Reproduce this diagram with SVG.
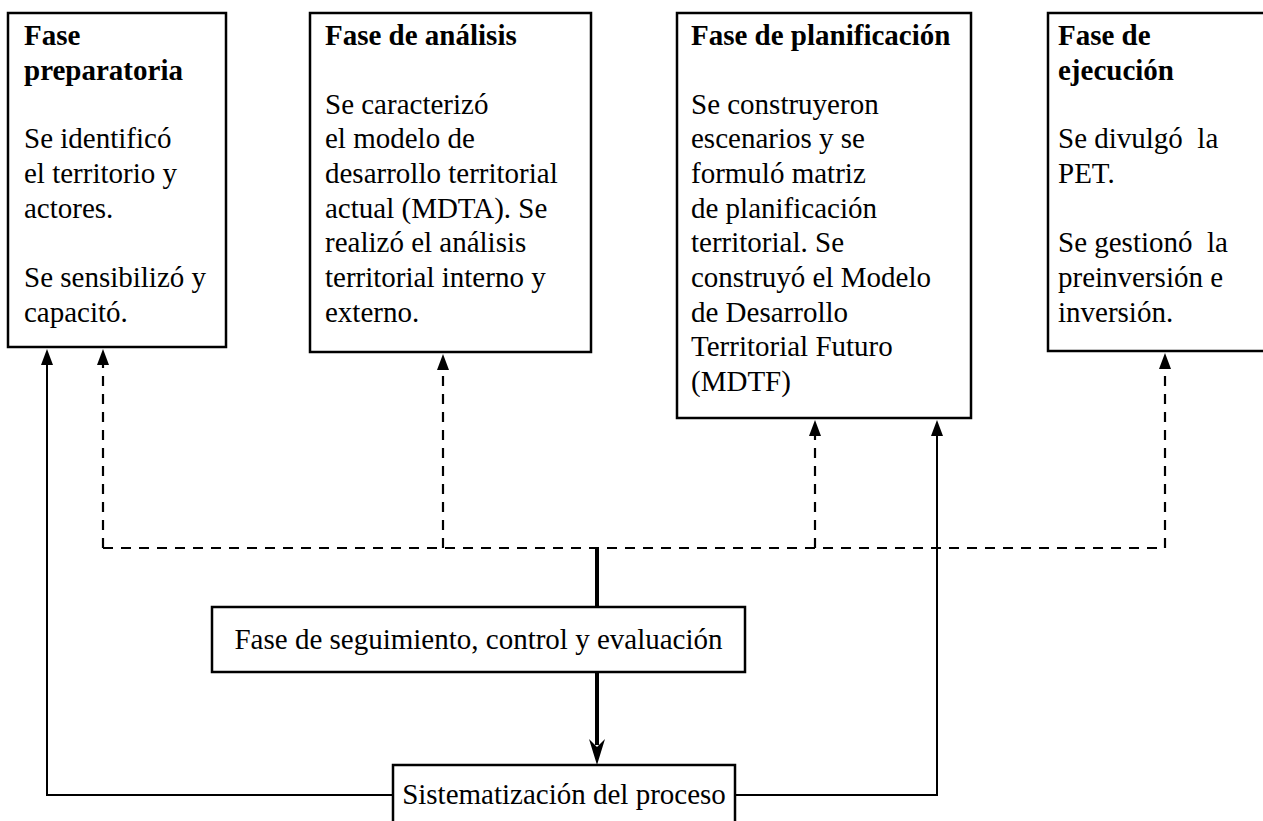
<svg xmlns="http://www.w3.org/2000/svg" width="1263" height="821" viewBox="0 0 1263 821">
<defs>
<style>
.box{fill:#fff;stroke:#000;stroke-width:2.5}
.t{font-family:"Liberation Serif","Times New Roman",serif;font-size:29px;fill:#000}
.b{font-weight:bold}
.c{text-anchor:middle}
.ln{fill:none;stroke:#000;stroke-width:2}
.dash{fill:none;stroke:#000;stroke-width:2.2;stroke-dasharray:10 8}
.thick{fill:none;stroke:#000;stroke-width:4}
</style>
</defs>
<rect width="1263" height="821" fill="#fff"/>
<g id="connectors">
<path class="ln" d="M393,795 H47 V362"/>
<path class="ln" d="M735,795 H937 V433"/>
<path class="dash" d="M103,548 H1165"/>
<path class="dash" d="M103,548 V362"/>
<path class="dash" d="M443,548 V367"/>
<path class="dash" d="M815,548 V433"/>
<path class="dash" d="M1165,548 V366"/>
<path d="M97,365 L103,349 L109,365 Z"/>
<path d="M437,370 L443,354 L449,370 Z"/>
<path d="M809,436 L815,420 L821,436 Z"/>
<path d="M1159,369 L1165,353 L1171,369 Z"/>
<path d="M41,365 L47,349 L53,365 Z"/>
<path d="M931,436 L937,420 L943,436 Z"/>
<path class="thick" d="M597,548 V607"/>
<path class="thick" d="M597,673 V745"/>
<path d="M589,739 L597,765 L605,739 L597,747 Z"/>
</g>
<g id="fase-preparatoria">
<rect class="box" x="8" y="13" width="218" height="334"/>
<text class="t b" x="24" y="45">Fase</text>
<text class="t b" x="24" y="80">preparatoria</text>
<text class="t" x="24" y="148">Se identificó</text>
<text class="t" x="24" y="183">el territorio y</text>
<text class="t" x="24" y="218">actores.</text>
<text class="t" x="24" y="287">Se sensibilizó y</text>
<text class="t" x="24" y="322">capacitó.</text>
</g>
<g id="fase-analisis">
<rect class="box" x="310" y="13" width="281" height="339"/>
<text class="t b" x="325" y="45">Fase de análisis</text>
<text class="t" x="325" y="114">Se caracterizó</text>
<text class="t" x="325" y="148">el modelo de</text>
<text class="t" x="325" y="183">desarrollo territorial</text>
<text class="t" x="325" y="218">actual (MDTA). Se</text>
<text class="t" x="325" y="252">realizó el análisis</text>
<text class="t" x="325" y="287">territorial interno y</text>
<text class="t" x="325" y="322">externo.</text>
</g>
<g id="fase-planificacion">
<rect class="box" x="677" y="13" width="294" height="405"/>
<text class="t b" x="691" y="45">Fase de planificación</text>
<text class="t" x="691" y="114">Se construyeron</text>
<text class="t" x="691" y="148">escenarios y se</text>
<text class="t" x="691" y="183">formuló matriz</text>
<text class="t" x="691" y="218">de planificación</text>
<text class="t" x="691" y="252">territorial. Se</text>
<text class="t" x="691" y="287">construyó el Modelo</text>
<text class="t" x="691" y="322">de Desarrollo</text>
<text class="t" x="691" y="356">Territorial Futuro</text>
<text class="t" x="691" y="391">(MDTF)</text>
</g>
<g id="fase-ejecucion">
<rect class="box" x="1048" y="13" width="220" height="338"/>
<text class="t b" x="1058" y="45">Fase de</text>
<text class="t b" x="1058" y="80">ejecución</text>
<text class="t" x="1058" y="148" xml:space="preserve">Se divulgó  la</text>
<text class="t" x="1058" y="183">PET.</text>
<text class="t" x="1058" y="252" xml:space="preserve">Se gestionó  la</text>
<text class="t" x="1058" y="287">preinversión e</text>
<text class="t" x="1058" y="322">inversión.</text>
</g>
<g id="fase-seguimiento">
<rect class="box" x="212" y="607" width="533" height="65"/>
<text class="t c" x="478.5" y="649">Fase de seguimiento, control y evaluación</text>
</g>
<g id="sistematizacion">
<rect class="box" x="393" y="765" width="342" height="70"/>
<text class="t c" x="564" y="804">Sistematización del proceso</text>
</g>
</svg>
